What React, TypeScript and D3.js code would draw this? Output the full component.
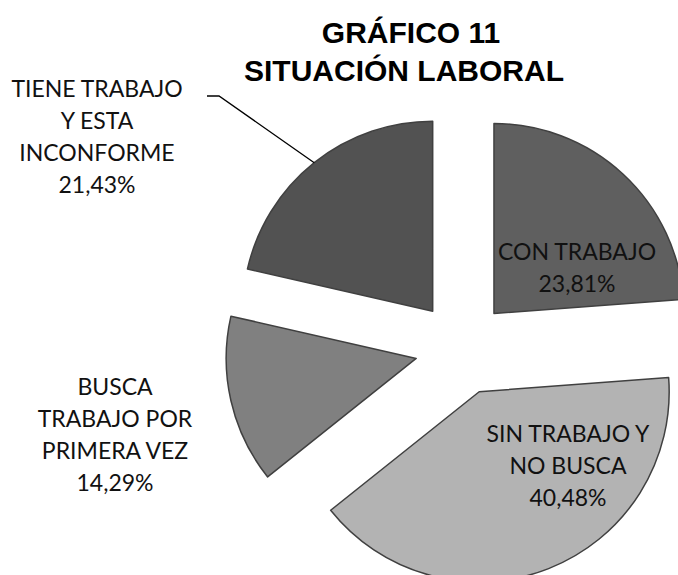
import React from "react";
import * as d3 from "d3";

const categories = [
  "CON TRABAJO",
  "SIN TRABAJO Y NO BUSCA",
  "BUSCA TRABAJO POR PRIMERA VEZ",
  "TIENE TRABAJO Y ESTA INCONFORME",
];
const values = [23.81, 40.48, 14.29, 21.43];
const labelLines = [
  ["CON TRABAJO", "23,81%"],
  ["SIN TRABAJO Y", "NO BUSCA", "40,48%"],
  ["BUSCA", "TRABAJO POR", "PRIMERA VEZ", "14,29%"],
  ["TIENE TRABAJO", "Y ESTA", "INCONFORME", "21,43%"],
];
const titleLines = ["GRÁFICO 11", "SITUACIÓN LABORAL"];

const W = 678;
const H = 575;
const CX = 462;
const CY = 348;
const R = 190;
const EXPLODE = 47;
const colors = ["#5f5f5f", "#b3b3b3", "#808080", "#525252"];
const labelPos = [
  { x: 577, y: 260 },
  { x: 568, y: 442 },
  { x: 115, y: 395 },
  { x: 97, y: 97 },
];
const LINE_H = 32;

export default function App() {
  const pie = d3
    .pie<number>()
    .sort(null)
    .value((d) => d)
    .startAngle(0)
    .endAngle(2 * Math.PI);
  const arcs = pie(values);
  const arc = d3.arc<d3.PieArcDatum<number>>().innerRadius(0).outerRadius(R);

  const offsets = arcs.map((a) => {
    const mid = (a.startAngle + a.endAngle) / 2;
    return { dx: EXPLODE * Math.sin(mid), dy: -EXPLODE * Math.cos(mid), mid };
  });

  const t = offsets[3];
  const edgeX = CX + t.dx + R * Math.sin(t.mid);
  const edgeY = CY + t.dy - R * Math.cos(t.mid);
  const leader = d3.line()([
    [207, 96],
    [219, 96],
    [edgeX, edgeY],
  ]);

  return (
    <svg
      width={W}
      height={H}
      style={{ position: "absolute", left: 0, top: 0, background: "#fff" }}
    >
      <rect width={W} height={H} fill="#fff" />
      {arcs.map((a, i) => (
        <path
          key={categories[i]}
          d={arc(a) || ""}
          transform={`translate(${CX + offsets[i].dx},${CY + offsets[i].dy})`}
          fill={colors[i]}
          stroke="#404040"
          strokeWidth={1.5}
          strokeLinejoin="round"
        />
      ))}
      <path d={leader || ""} fill="none" stroke="#000" strokeWidth={1.3} />
      {labelLines.map((lines, i) => (
        <text
          key={"l" + i}
          textAnchor="middle"
          fontFamily="Lato, 'Open Sans', sans-serif"
          fontSize={23}
          fill="#111"
        >
          {lines.map((ln, j) => (
            <tspan key={j} x={labelPos[i].x} y={labelPos[i].y + j * LINE_H}>
              {ln}
            </tspan>
          ))}
        </text>
      ))}
      <text
        textAnchor="middle"
        fontFamily="'Liberation Sans', Arial, sans-serif"
        fontWeight="bold"
        fontSize={30}
        fill="#000"
      >
        <tspan x={411} y={43}>
          {titleLines[0]}
        </tspan>
        <tspan x={404} y={81}>
          {titleLines[1]}
        </tspan>
      </text>
    </svg>
  );
}
